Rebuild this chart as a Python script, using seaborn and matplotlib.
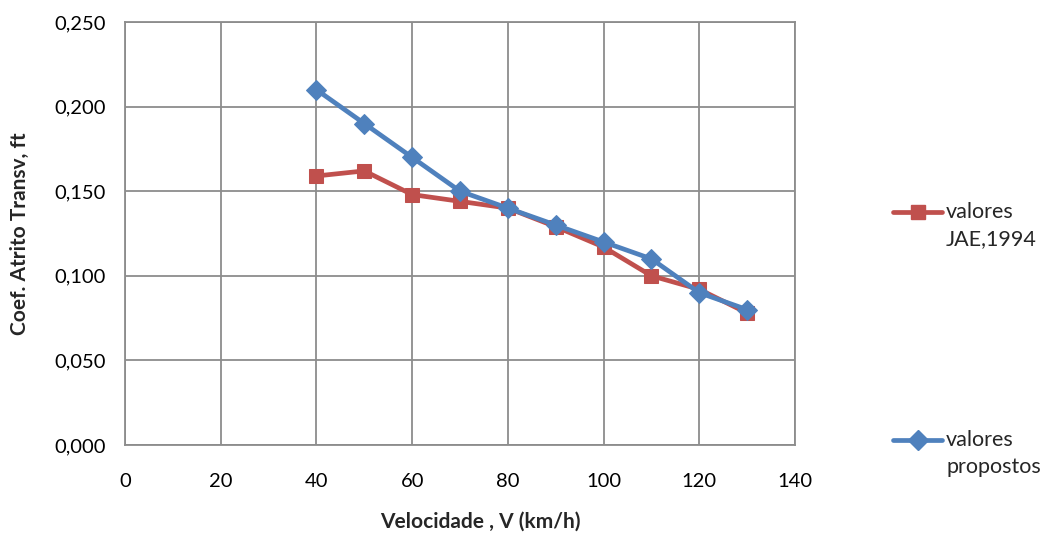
import matplotlib
matplotlib.use("Agg")
import matplotlib.pyplot as plt
from matplotlib.lines import Line2D
import seaborn as sns
import pandas as pd

velocidade = [40, 50, 60, 70, 80, 90, 100, 110, 120, 130]
valores_jae = [0.159, 0.162, 0.148, 0.144, 0.140, 0.129, 0.117, 0.100, 0.092, 0.078]
valores_propostos = [0.210, 0.190, 0.170, 0.150, 0.140, 0.130, 0.120, 0.110, 0.090, 0.080]
x_ticks = [0, 20, 40, 60, 80, 100, 120, 140]
y_ticks = [0.0, 0.05, 0.10, 0.15, 0.20, 0.25]

RED = "#c0504d"
BLUE = "#4f81bd"
GRID = "#8c8c8c"

sns.set_theme(style="white")
plt.rcParams["font.family"] = ["Lato", "DejaVu Sans"]

fig = plt.figure(figsize=(10.42, 5.36), dpi=100)
ax = fig.add_axes([125 / 1042, 1 - 445 / 536, (795 - 125) / 1042, (445 - 22) / 536])

df_jae = pd.DataFrame({"V": velocidade, "f": valores_jae})
df_prop = pd.DataFrame({"V": velocidade, "f": valores_propostos})

sns.lineplot(data=df_jae, x="V", y="f", ax=ax, color=RED, linewidth=3.4,
             marker="s", markersize=10, markeredgecolor=RED, zorder=3)
sns.lineplot(data=df_prop, x="V", y="f", ax=ax, color=BLUE, linewidth=3.4,
             marker="D", markersize=10, markeredgecolor=BLUE, zorder=4)

ax.set_xlim(0, 140)
ax.set_ylim(0, 0.25)
ax.set_xticks(x_ticks)
ax.set_yticks(y_ticks)
ax.set_xticklabels([str(v) for v in x_ticks], fontsize=14.5)
ax.set_yticklabels([f"{v:.3f}".replace(".", ",") for v in y_ticks], fontsize=14.5)
ax.tick_params(axis="x", length=0, pad=20, colors="#000000")
ax.tick_params(axis="y", length=0, pad=14, colors="#000000")
ax.grid(True, color=GRID, linewidth=1.3)
ax.set_axisbelow(True)
for s in ax.spines.values():
    s.set_color(GRID)
    s.set_linewidth(1.3)

ax.set_xlabel("Velocidade , V (km/h)", fontsize=15, fontweight="bold")
ax.xaxis.set_label_coords((480 - 125) / 670, -(512 - 445) / 423)
ax.set_ylabel("Coef. Atrito Transv, ft", fontsize=15, fontweight="bold", labelpad=17)

# legend drawn manually in figure pixels
def px(x, y):
    return x / 1042, 1 - y / 536

for (yy, col, mk, lab) in [(212, RED, "s", "valores\nJAE,1994"),
                           (440, BLUE, "D", "valores\npropostos")]:
    x0, y0 = px(893, yy)
    x1, _ = px(942, yy)
    fig.add_artist(Line2D([x0, x1], [y0, y0], color=col, linewidth=3.4,
                          transform=fig.transFigure))
    fig.add_artist(Line2D([(x0 + x1) / 2], [y0], color=col, marker=mk, markersize=10,
                          transform=fig.transFigure))
    tx, ty = px(946, yy - 10)
    fig.text(tx, ty, lab, fontsize=15.5, va="top", ha="left", linespacing=1.45)

fig.savefig("out.png", dpi=100)
